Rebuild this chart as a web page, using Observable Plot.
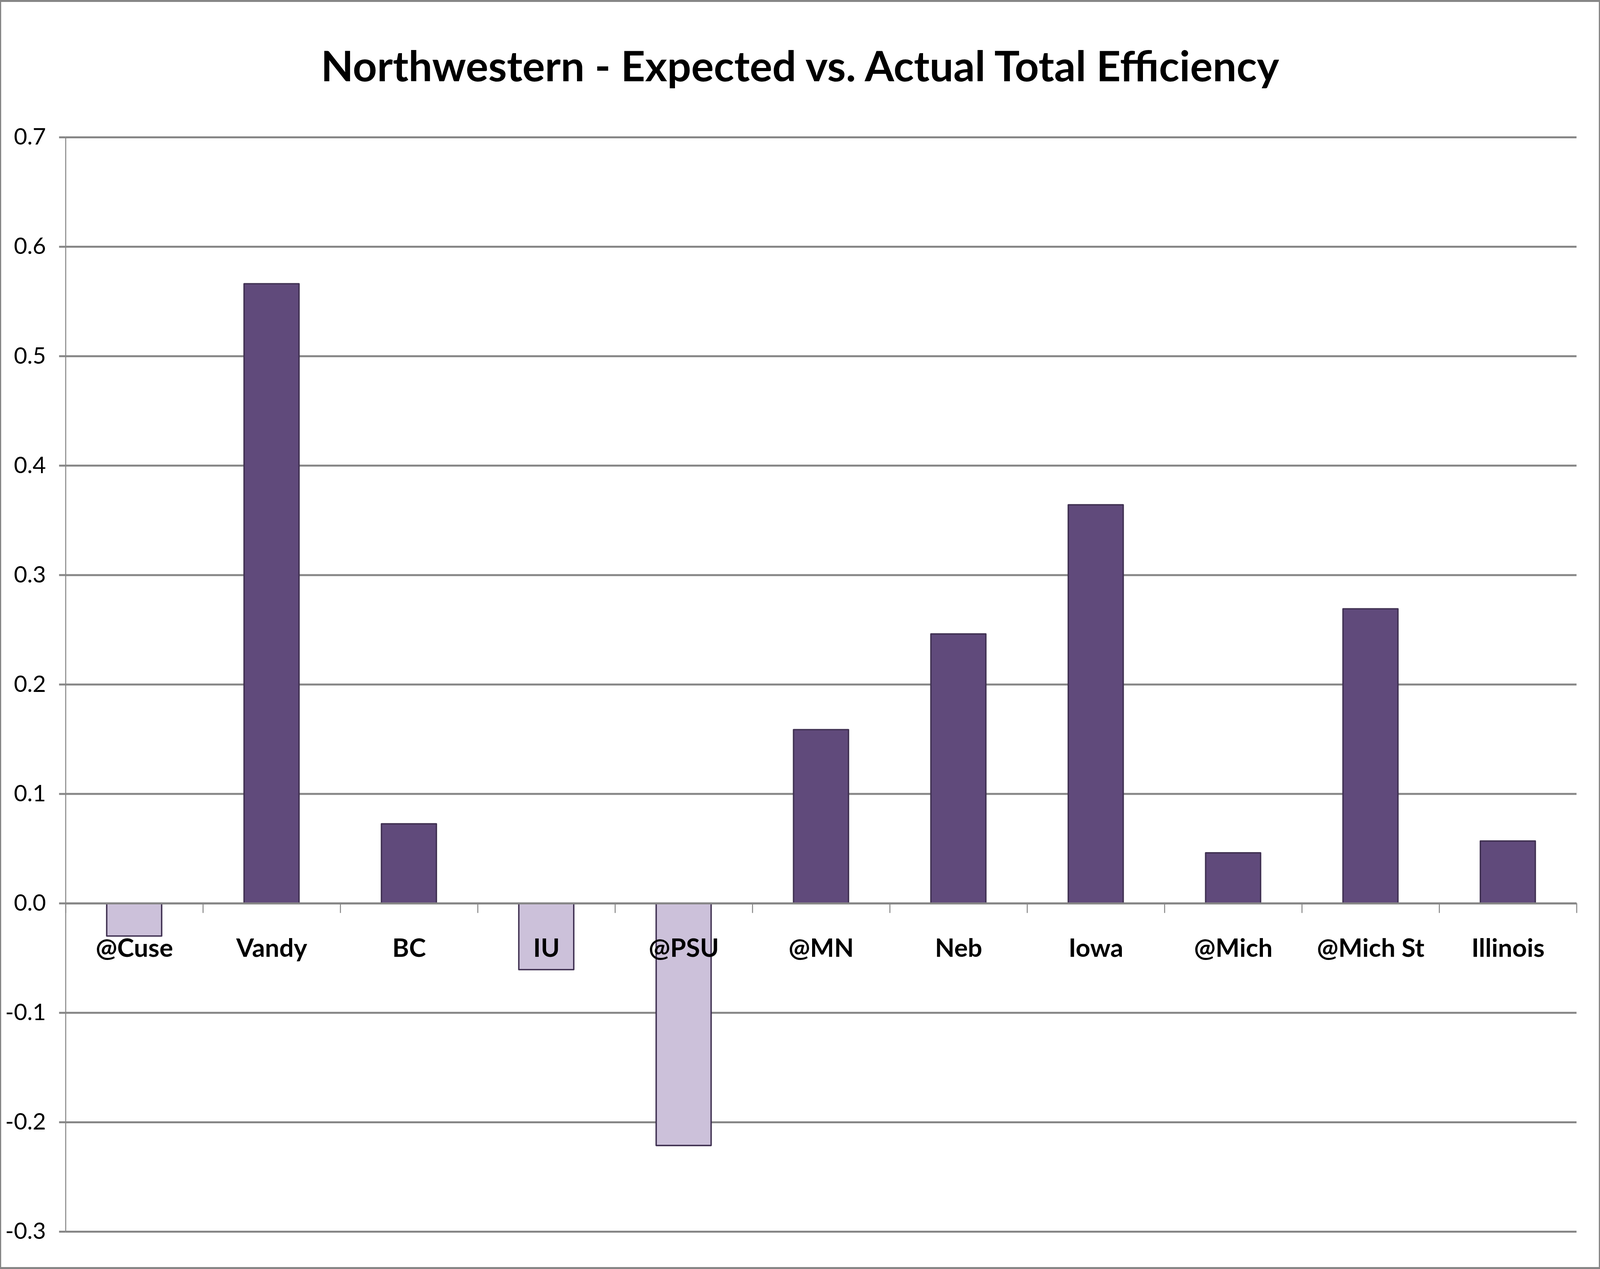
<!DOCTYPE html>
<html>
<head>
<meta charset="utf-8">
<script src="https://cdn.jsdelivr.net/npm/d3@7"></script>
<script src="https://cdn.jsdelivr.net/npm/@observablehq/plot@0.6"></script>
<style>
  html, body { margin: 0; padding: 0; background: #fff; overflow: hidden; }
  #chart { position: relative; box-sizing: border-box; border-style: solid; border-color: #868686; background: #fff; overflow: hidden; }
  #title { box-sizing: border-box; text-align: center; color: #000; white-space: nowrap;
    font-family: Lato, "Open Sans", sans-serif; font-weight: bold; line-height: 1.2; }
  #plot svg { display: block; }
</style>
</head>
<body>
<div id="chart">
  <div id="title">Northwestern - Expected vs. Actual Total Efficiency</div>
  <div id="plot"></div>
</div>
<script>
const categories = ["@Cuse", "Vandy", "BC", "IU", "@PSU", "@MN", "Neb", "Iowa", "@Mich", "@Mich St", "Illinois"];
const values = [-0.030, 0.566, 0.0725, -0.0607, -0.2214, 0.1586, 0.246, 0.364, 0.046, 0.269, 0.0568];
const yTicks = [-0.3, -0.2, -0.1, 0.0, 0.1, 0.2, 0.3, 0.4, 0.5, 0.6, 0.7];

const data = categories.map((c, i) => ({category: c, index: i, value: values[i]}));
const boundaries = d3.range(categories.length + 1);

const gridColor = "#868686";
const posFill = "#604A7B";
const negFill = "#CCC1DA";
const barStroke = "#403152";

// Reference design is 6473 x 3248; fit it to the actual viewport.
const REF_W = 6473, REF_H = 3248;
const W = Math.min(window.innerWidth || REF_W, REF_W);
const H = Math.min(window.innerHeight || REF_H, REF_H);
const sx = W / REF_W, sy = H / REF_H;
const fs = Math.sqrt(sx * sy); // font scale

const bx = Math.max(2, Math.round(5 * sx)), by = Math.max(2, Math.round(5 * sy));
const chartDiv = document.getElementById("chart");
chartDiv.style.width = W + "px";
chartDiv.style.height = H + "px";
chartDiv.style.borderWidth = `${by}px ${bx}px`;

const titleFont = 136 * fs;
const titleH = 260 * sy;
const title = document.getElementById("title");
title.style.height = titleH + "px";
title.style.fontSize = titleFont + "px";
// Lato ascent ≈ 0.987em, content height 1.2em → baseline at 209 (ref px)
title.style.paddingTop = (209 * sy - by - 0.987 * titleFont) + "px";

const svgW = W - 2 * bx;
const svgH = H - 2 * by - titleH;
const top0 = by + titleH;

const chart = Plot.plot({
  width: svgW,
  height: svgH,
  marginTop: 351 * sy - top0,
  marginBottom: (H - by) - 3152 * sy,
  marginLeft: 265 * sx - bx,
  marginRight: (W - bx) - 6378 * sx,
  style: {fontFamily: "Lato, 'Open Sans', sans-serif", background: "#fff", color: "#000"},
  x: {type: "linear", domain: [0, categories.length], axis: null},
  y: {domain: [-0.3, 0.7], axis: null},
  color: {type: "identity"},
  marks: [
    Plot.ruleY(yTicks, {stroke: gridColor, strokeWidth: 5 * sy}),
    Plot.axisY(yTicks, {
      tickSize: 26 * sx, tickPadding: 54 * sx, stroke: gridColor, strokeWidth: 5 * sy,
      fontSize: 74 * fs, fill: "#000", tickFormat: d => d.toFixed(1)
    }),
    Plot.rect(data, {
      x1: d => d.index + 0.3, x2: d => d.index + 0.7,
      y1: 0, y2: d => d.value,
      fill: d => d.value < 0 ? negFill : posFill,
      stroke: barStroke, strokeWidth: 4.5 * fs, strokeLinejoin: "round"
    }),
    Plot.ruleY([0], {stroke: gridColor, strokeWidth: 5 * sy}),
    Plot.ruleX([0], {stroke: gridColor, strokeWidth: 4 * sx}),
    Plot.ruleX(boundaries, {x: d => d, y1: 0, y2: 0, insetBottom: -25 * sy, stroke: gridColor, strokeWidth: 4 * sx}),
    Plot.text(data, {
      x: d => d.index + 0.5, y: 0, text: "category",
      dy: 137 * sy - 0.32 * 82 * fs,
      fontSize: 82 * fs, fontWeight: "bold", fill: "#000"
    })
  ]
});
document.getElementById("plot").appendChild(chart);
</script>
</body>
</html>
